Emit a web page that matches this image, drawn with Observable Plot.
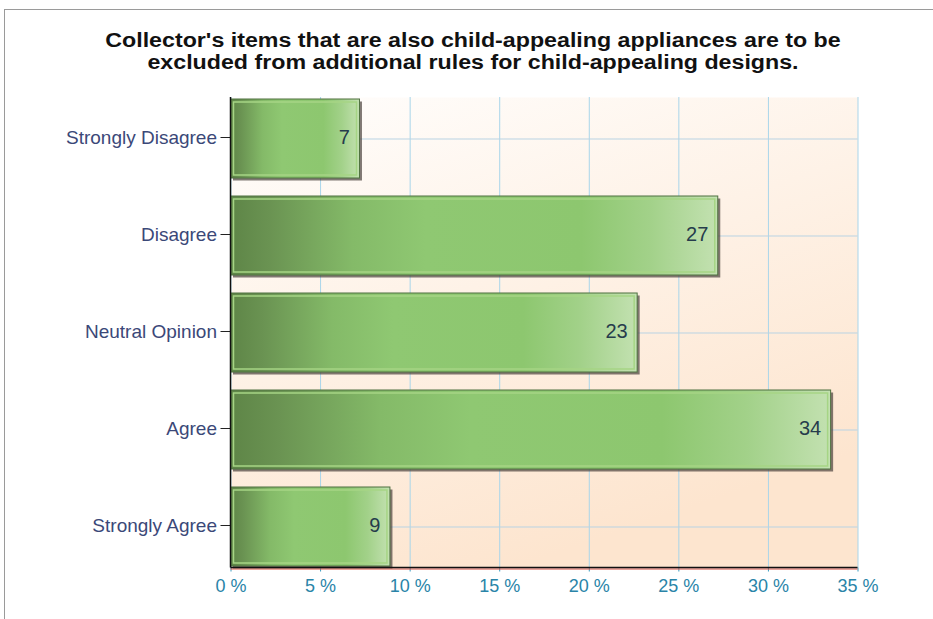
<!DOCTYPE html>
<html><head><meta charset="utf-8">
<script src="https://cdn.jsdelivr.net/npm/d3@7"></script>
<script src="https://cdn.jsdelivr.net/npm/@observablehq/plot@0.6"></script>
<style>
body{margin:0;background:#fff;}
#wrap{position:relative;width:933px;height:619px;overflow:hidden;font-family:"Liberation Sans",Arial,sans-serif;}
#chart{position:absolute;left:0;top:0;}
#title{position:absolute;left:0;top:29px;width:946px;text-align:center;font-weight:bold;font-size:19.5px;line-height:22px;color:#111;transform:scaleX(1.19);transform-origin:473px 0;}
.bt{position:absolute;left:4px;top:9px;right:0;height:1px;background:#9a9a9a}
.bl{position:absolute;left:4px;top:9px;bottom:0;width:1px;background:#9a9a9a}
</style></head><body>
<div id="wrap"><div class="bt"></div><div class="bl"></div><div id="chart"></div><div id="title"></div></div>
<script>
const categories = ["Strongly Disagree", "Disagree", "Neutral Opinion", "Agree", "Strongly Agree"];
const counts = [7, 27, 23, 34, 9];
// bar lengths in percent
const percents = [7.2, 27.2, 22.7, 33.5, 8.9];
const xTicks = [0, 5, 10, 15, 20, 25, 30, 35];
const titleLines = [
  "Collector's items that are also child-appealing appliances are to be",
  "excluded from additional rules for child-appealing designs."
];

const data = categories.map((c, i) => ({category: c, count: counts[i], pct: percents[i]}));

document.getElementById("title").innerHTML = titleLines.map(t => t.replace(/&/g,"&amp;").replace(/</g,"&lt;")).join("<br>");

const defs = () => {
  const d = d3.create("svg:defs");
  const bg = d.append("linearGradient").attr("id", "bgGrad").attr("x1", 0).attr("y1", 0).attr("x2", 0.45).attr("y2", 1);
  bg.append("stop").attr("offset", "0%").attr("stop-color", "#fffefd");
  bg.append("stop").attr("offset", "100%").attr("stop-color", "#fde5cf");
  const bar = d.append("linearGradient").attr("id", "barGrad").attr("x1", 0).attr("y1", 0).attr("x2", 1).attr("y2", 0);
  [["0%", "#5e8547"], ["8%", "#6a9352"], ["25%", "#84ba68"], ["40%", "#8fc872"], ["72%", "#8dc76f"], ["86%", "#a2d189"], ["100%", "#c3e1b1"]]
    .forEach(([o, c]) => bar.append("stop").attr("offset", o).attr("stop-color", c));
  return d.node();
};

const axisLines = (index, scales, values, dims) => {
  const g = d3.create("svg:g");
  const x0 = dims.marginLeft, x1 = dims.width - dims.marginRight;
  const y0 = dims.marginTop, y1 = dims.height - dims.marginBottom;
  g.append("line").attr("x1", x0).attr("x2", x1).attr("y1", y1 + 1.5).attr("y2", y1 + 1.5).attr("stroke", "#d84a3a").attr("stroke-width", 1.2);
  g.append("line").attr("x1", x0).attr("x2", x1).attr("y1", y1).attr("y2", y1).attr("stroke", "#111").attr("stroke-width", 1.5);
  g.append("line").attr("x1", x0).attr("x2", x0).attr("y1", y0).attr("y2", y1).attr("stroke", "#111").attr("stroke-width", 1.5);
  return g.node();
};

const chart = Plot.plot({
  width: 933,
  height: 619,
  marginTop: 97,
  marginBottom: 51.5,
  marginLeft: 230.5,
  marginRight: 75.5,
  style: {background: "transparent", fontFamily: "'Liberation Sans', Arial, sans-serif"},
  x: {domain: [0, 35]},
  y: {domain: categories, paddingInner: 0.19, paddingOuter: 0},
  marks: [
    defs,
    Plot.frame({fill: "url(#bgGrad)", stroke: null}),
    Plot.gridX(xTicks, {stroke: "#a9d5ea", strokeOpacity: 1}),
    Plot.gridY(categories, {stroke: "#b9d3e3", strokeOpacity: 1}),
    Plot.barX(data, {x: "pct", y: "category", fill: "#4a423d", fillOpacity: 0.7, dx: 2.5, dy: 2.5}),
    Plot.barX(data, {x: "pct", y: "category", fill: "url(#barGrad)", stroke: "#4f7040", strokeWidth: 1}),
    Plot.barX(data, {x: "pct", y: "category", fill: "none", stroke: "#a6d585", strokeWidth: 1.5, inset: 3}),
    Plot.text(data, {x: "pct", y: "category", text: d => String(d.count), textAnchor: "end", dx: -10, dy: -1.5, fontSize: 20, fill: "#263c4c"}),
    Plot.axisY({tickSize: 10, tickPadding: 4, fontSize: 19, stroke: "#222", fill: "#3b4878", label: null, dy: -1.5}),
    Plot.axisX(xTicks, {tickSize: 4, tickPadding: 7, fontSize: 18, stroke: "#3a9cc0", fill: "#2a84a8", tickFormat: d => d + " %", label: null}),
    axisLines
  ]
});
document.getElementById("chart").appendChild(chart);
</script>
</body></html>
